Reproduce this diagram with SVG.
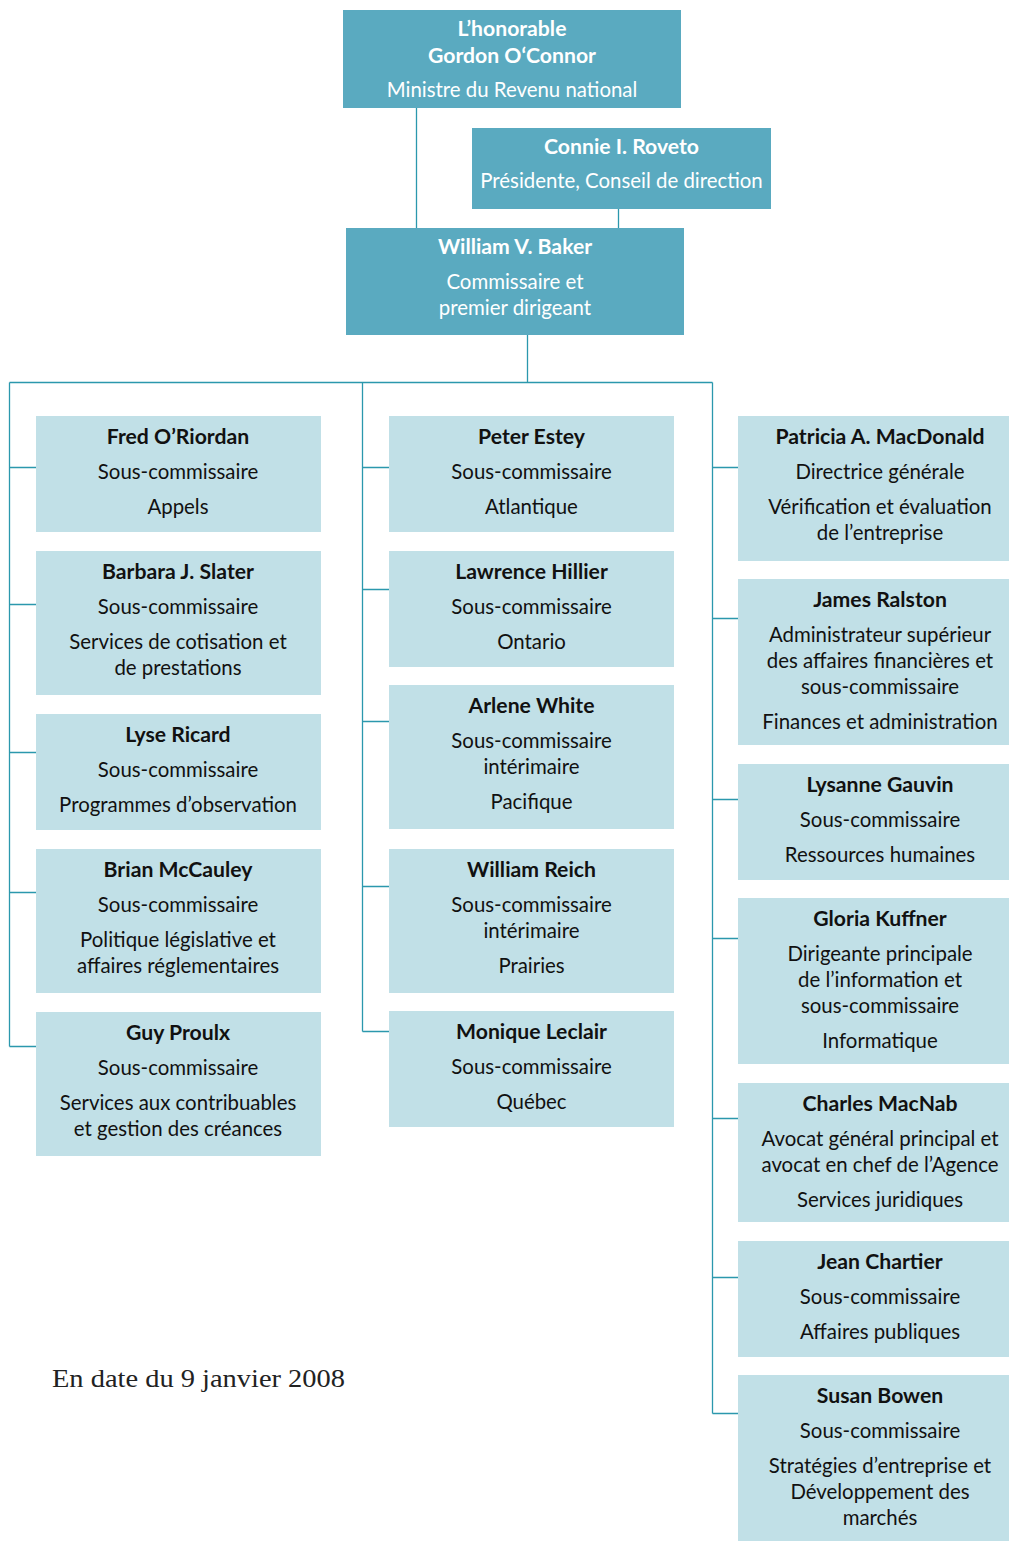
<svg xmlns="http://www.w3.org/2000/svg" width="1009" height="1541" viewBox="0 0 1009 1541">
<style>
.dk{fill:#5aaac0}
.lt{fill:#c1e0e7}
.ln{stroke:#2b98ad;stroke-width:1.3;fill:none}
text{font-family:Lato,"Open Sans","Liberation Sans",sans-serif;font-size:20.4px;text-anchor:middle}
.w{fill:#ffffff}
.b{font-weight:bold;font-size:21.2px}
.k{fill:#111111}
.ft{font-family:"Liberation Serif",serif;font-size:25px;text-anchor:start;fill:#222222}
</style>
<rect width="1009" height="1541" fill="#ffffff"/>
<g id="connectors" class="ln">
<path d="M416.5 108V228M618.5 209V228M527.5 335V382.5M9.5 382.5H712.5"/>
<path d="M9.5 382.5V1046.5M9.5 467.5H36M9.5 604.5H36M9.5 752.5H36M9.5 892.5H36M9.5 1046.5H36"/>
<path d="M362.5 382.5V1031.5M362.5 467.5H389M362.5 589.5H389M362.5 721.5H389M362.5 886.5H389M362.5 1031.5H389"/>
<path d="M712.5 382.5V1413.5M712.5 467.5H738M712.5 618.5H738M712.5 799.5H738M712.5 938.5H738M712.5 1118.5H738M712.5 1277.5H738M712.5 1413.5H738"/>
</g>
<g id="minister"><rect class="dk" x="343" y="10" width="338" height="98"/>
<text class="w b" x="512" y="36">L’honorable</text><text class="w b" x="512" y="63">Gordon O‘Connor</text><text class="w" x="512" y="97">Ministre du Revenu national</text></g>
<g id="roveto"><rect class="dk" x="472" y="128" width="299" height="81"/>
<text class="w b" x="621.5" y="154">Connie I. Roveto</text><text class="w" x="621.5" y="188">Présidente, Conseil de direction</text></g>
<g id="baker"><rect class="dk" x="346" y="228" width="338" height="107"/>
<text class="w b" x="515" y="254">William V. Baker</text><text class="w" x="515" y="289">Commissaire et</text><text class="w" x="515" y="315">premier dirigeant</text></g>

<g id="oriordan"><rect class="lt" x="36" y="416" width="285" height="116"/>
<text class="k b" x="178" y="444">Fred O’Riordan</text><text class="k" x="178" y="479">Sous-commissaire</text><text class="k" x="178" y="514">Appels</text></g>
<g id="slater"><rect class="lt" x="36" y="551" width="285" height="144"/>
<text class="k b" x="178" y="579">Barbara J. Slater</text><text class="k" x="178" y="614">Sous-commissaire</text><text class="k" x="178" y="649">Services de cotisation et</text><text class="k" x="178" y="675">de prestations</text></g>
<g id="ricard"><rect class="lt" x="36" y="714" width="285" height="116"/>
<text class="k b" x="178" y="742">Lyse Ricard</text><text class="k" x="178" y="777">Sous-commissaire</text><text class="k" x="178" y="812">Programmes d’observation</text></g>
<g id="mccauley"><rect class="lt" x="36" y="849" width="285" height="144"/>
<text class="k b" x="178" y="877">Brian McCauley</text><text class="k" x="178" y="912">Sous-commissaire</text><text class="k" x="178" y="947">Politique législative et</text><text class="k" x="178" y="973">affaires réglementaires</text></g>
<g id="proulx"><rect class="lt" x="36" y="1012" width="285" height="144"/>
<text class="k b" x="178" y="1040">Guy Proulx</text><text class="k" x="178" y="1075">Sous-commissaire</text><text class="k" x="178" y="1110">Services aux contribuables</text><text class="k" x="178" y="1136">et gestion des créances</text></g>

<g id="estey"><rect class="lt" x="389" y="416" width="285" height="116"/>
<text class="k b" x="531.5" y="444">Peter Estey</text><text class="k" x="531.5" y="479">Sous-commissaire</text><text class="k" x="531.5" y="514">Atlantique</text></g>
<g id="hillier"><rect class="lt" x="389" y="551" width="285" height="116"/>
<text class="k b" x="531.5" y="579">Lawrence Hillier</text><text class="k" x="531.5" y="614">Sous-commissaire</text><text class="k" x="531.5" y="649">Ontario</text></g>
<g id="white"><rect class="lt" x="389" y="685" width="285" height="144"/>
<text class="k b" x="531.5" y="713">Arlene White</text><text class="k" x="531.5" y="748">Sous-commissaire</text><text class="k" x="531.5" y="774">intérimaire</text><text class="k" x="531.5" y="809">Pacifique</text></g>
<g id="reich"><rect class="lt" x="389" y="849" width="285" height="144"/>
<text class="k b" x="531.5" y="877">William Reich</text><text class="k" x="531.5" y="912">Sous-commissaire</text><text class="k" x="531.5" y="938">intérimaire</text><text class="k" x="531.5" y="973">Prairies</text></g>
<g id="leclair"><rect class="lt" x="389" y="1011" width="285" height="116"/>
<text class="k b" x="531.5" y="1039">Monique Leclair</text><text class="k" x="531.5" y="1074">Sous-commissaire</text><text class="k" x="531.5" y="1109">Québec</text></g>

<g id="macdonald"><rect class="lt" x="738" y="416" width="271" height="145"/>
<text class="k b" x="880" y="444">Patricia A. MacDonald</text><text class="k" x="880" y="479">Directrice générale</text><text class="k" x="880" y="514">Vérification et évaluation</text><text class="k" x="880" y="540">de l’entreprise</text></g>
<g id="ralston"><rect class="lt" x="738" y="579" width="271" height="166"/>
<text class="k b" x="880" y="607">James Ralston</text><text class="k" x="880" y="642">Administrateur supérieur</text><text class="k" x="880" y="668">des affaires financières et</text><text class="k" x="880" y="694">sous-commissaire</text><text class="k" x="880" y="729">Finances et administration</text></g>
<g id="gauvin"><rect class="lt" x="738" y="764" width="271" height="116"/>
<text class="k b" x="880" y="792">Lysanne Gauvin</text><text class="k" x="880" y="827">Sous-commissaire</text><text class="k" x="880" y="862">Ressources humaines</text></g>
<g id="kuffner"><rect class="lt" x="738" y="898" width="271" height="166"/>
<text class="k b" x="880" y="926">Gloria Kuffner</text><text class="k" x="880" y="961">Dirigeante principale</text><text class="k" x="880" y="987">de l’information et</text><text class="k" x="880" y="1013">sous-commissaire</text><text class="k" x="880" y="1048">Informatique</text></g>
<g id="macnab"><rect class="lt" x="738" y="1083" width="271" height="139"/>
<text class="k b" x="880" y="1111">Charles MacNab</text><text class="k" x="880" y="1146">Avocat général principal et</text><text class="k" x="880" y="1172">avocat en chef de l’Agence</text><text class="k" x="880" y="1207">Services juridiques</text></g>
<g id="chartier"><rect class="lt" x="738" y="1241" width="271" height="116"/>
<text class="k b" x="880" y="1269">Jean Chartier</text><text class="k" x="880" y="1304">Sous-commissaire</text><text class="k" x="880" y="1339">Affaires publiques</text></g>
<g id="bowen"><rect class="lt" x="738" y="1375" width="271" height="166"/>
<text class="k b" x="880" y="1403">Susan Bowen</text><text class="k" x="880" y="1438">Sous-commissaire</text><text class="k" x="880" y="1473">Stratégies d’entreprise et</text><text class="k" x="880" y="1499">Développement des</text><text class="k" x="880" y="1525">marchés</text></g>

<text class="ft" x="52" y="1387" textLength="293" lengthAdjust="spacingAndGlyphs">En date du 9 janvier 2008</text>
</svg>
